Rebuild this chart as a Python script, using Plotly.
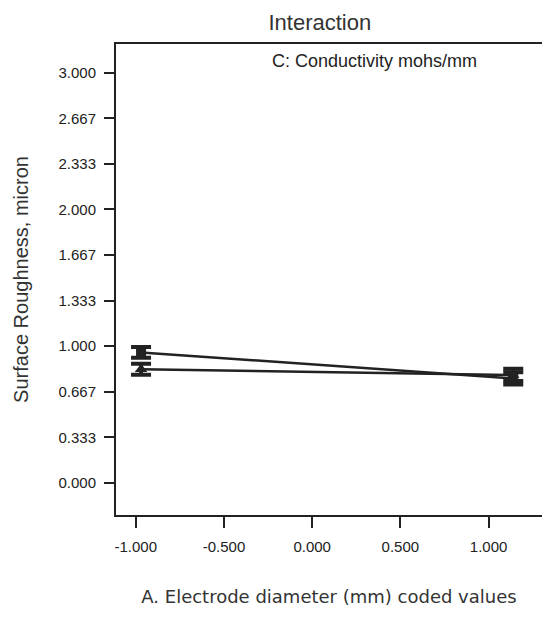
import plotly.graph_objects as go

# Data
x_pos = [-0.97, 1.14]           # A. Electrode diameter (coded), as placed on the drawn axis
sr_high = [0.955, 0.765]        # square-marker series
sr_low = [0.832, 0.790]         # triangle-marker series
err_high = [0.04, 0.045]
err_low = [0.04, 0.045]

x_ticks = [-1.0, -0.5, 0.0, 0.5, 1.0]
x_ticktext = ["-1.000", "-0.500", "0.000", "0.500", "1.000"]
y_ticks = [0.0, 0.333, 0.667, 1.0, 1.333, 1.667, 2.0, 2.333, 2.667, 3.0]
y_ticktext = ["0.000", "0.333", "0.667", "1.000", "1.333", "1.667", "2.000", "2.333", "2.667", "3.000"]

ink = "#222222"
sans = "Arial, Liberation Sans, sans-serif"

fig = go.Figure()
fig.add_trace(go.Scatter(
    x=x_pos, y=sr_high, mode="lines+markers",
    line=dict(color=ink, width=2.5),
    marker=dict(symbol="square", size=10, color=ink),
    error_y=dict(type="data", array=err_high, visible=True, color=ink, thickness=4, width=10),
    showlegend=False,
))
fig.add_trace(go.Scatter(
    x=x_pos, y=sr_low, mode="lines+markers",
    line=dict(color=ink, width=2.5),
    marker=dict(symbol="triangle-up", size=11, color=ink),
    error_y=dict(type="data", array=err_low, visible=True, color=ink, thickness=4, width=10),
    showlegend=False,
))

fig.update_layout(
    width=550, height=622,
    margin=dict(l=106, r=16, t=36, b=115),
    paper_bgcolor="white", plot_bgcolor="white",
    font=dict(family=sans, color=ink),
    title=dict(text="Interaction", x=0.567, xanchor="center", y=0.977, yanchor="middle",
               font=dict(size=22, family=sans, color="#333")),
    xaxis=dict(
        range=[-1.112, 1.303], tickvals=x_ticks, ticktext=x_ticktext,
        showline=True, linecolor=ink, linewidth=2, mirror=True,
        ticks="outside", ticklen=11, tickwidth=2, tickcolor=ink,
        ticklabelstandoff=6,
        showgrid=False, zeroline=False,
        tickfont=dict(size=15, family=sans, color=ink),
        title=dict(text="A. Electrode diameter (mm) coded values", standoff=36,
                   font=dict(size=18, family="DejaVu Sans, Verdana, sans-serif", color="#333")),
    ),
    yaxis=dict(
        range=[-0.234, 3.21], tickvals=y_ticks, ticktext=y_ticktext,
        showline=True, linecolor=ink, linewidth=2, mirror=True,
        ticks="outside", ticklen=10, tickwidth=2, tickcolor=ink,
        ticklabelstandoff=5,
        showgrid=False, zeroline=False,
        tickfont=dict(size=15, family=sans, color=ink),
        title=dict(text="Surface Roughness, micron", standoff=24,
                   font=dict(size=20, family=sans, color="#333")),
    ),
    annotations=[dict(
        text="C: Conductivity mohs/mm", xref="paper", yref="paper",
        x=0.607, y=0.964, xanchor="center", yanchor="middle", showarrow=False,
        font=dict(size=18, family=sans, color=ink),
    )],
)

fig.write_html("out.html")
